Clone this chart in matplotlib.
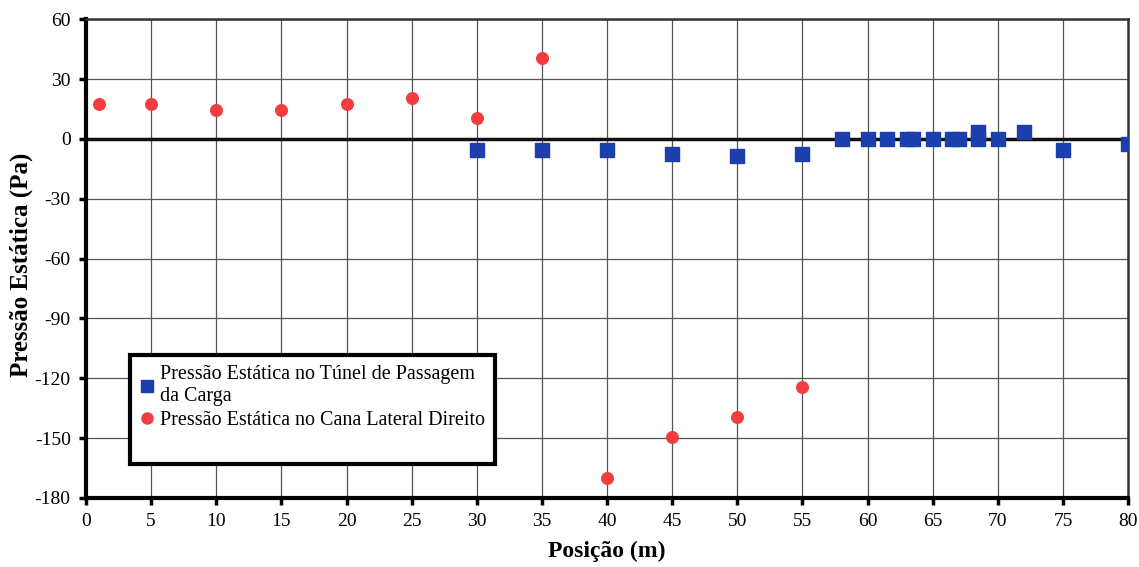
import matplotlib
matplotlib.use('Agg')
import matplotlib.pyplot as plt
from matplotlib.lines import Line2D

# Pressão no túnel de passagem da carga
tunel_x = [30, 35, 40, 45, 50, 55, 58, 60, 61.5, 63, 63.5, 65, 66.5, 67, 68.5, 68.5, 70, 72, 75, 80]
tunel_y = [-5.5, -5.5, -5.5, -7.5, -8.5, -7.5, 0, 0, 0, 0, 0, 0, 0, 0, 0, 3.5, 0, 3.5, -5.5, -2.5]

# Pressão no canal lateral direito
canal_x = [1, 5, 10, 15, 20, 25, 30, 35, 40, 45, 50, 55]
canal_y = [17.5, 17.5, 14.5, 14.5, 17.5, 20.5, 10.5, 40.5, -170, -149.5, -139.5, -124.5]

x_ticks = list(range(0, 81, 5))
y_ticks = list(range(-180, 61, 30))

plt.rcParams['font.family'] = ['Liberation Serif', 'DejaVu Serif']
plt.rcParams['axes.unicode_minus'] = False

fig = plt.figure(figsize=(11.39, 5.67), dpi=100)
ax = fig.add_axes([0.0755, 0.122, 0.915, 0.844])

ax.set_xlim(0, 80)
ax.set_ylim(-180, 60)
ax.set_xticks(x_ticks)
ax.set_yticks(y_ticks)
ax.grid(True, color='#555555', linewidth=0.9)
ax.set_axisbelow(True)
ax.axhline(0, color='#111111', linewidth=2.5, zorder=1)

for s in ['left', 'bottom']:
    ax.spines[s].set_linewidth(3)
for s in ['right', 'top']:
    ax.spines[s].set_linewidth(1.8)
    ax.spines[s].set_color('#333333')

ax.tick_params(axis='both', direction='out', length=5, width=2.5, labelsize=14)
ax.tick_params(axis='x', pad=6)
ax.tick_params(axis='y', pad=6)

ax.scatter(tunel_x, tunel_y, marker='s', s=110, color='#1c3fae', zorder=3)
ax.scatter(canal_x, canal_y, marker='o', s=70, color='#f23c3f', zorder=3)

ax.set_xlabel('Posição (m)', fontsize=17, fontweight='bold', labelpad=8)
ax.set_ylabel('Pressão Estática (Pa)', fontsize=18, fontweight='bold')
ax.yaxis.set_label_coords(-0.051, 0.486)

handles = [
    Line2D([], [], marker='s', linestyle='', color='#1c3fae', markersize=9),
    Line2D([], [], marker='o', linestyle='', color='#f23c3f', markersize=8),
    Line2D([], [], linestyle='', marker=''),
]
labels = ['Pressão Estática no Túnel de Passagem\nda Carga',
          'Pressão Estática no Cana Lateral Direito', '']
leg = ax.legend(handles, labels, loc='upper left', bbox_to_anchor=(0.042, 0.2985),
                fontsize=14.5, frameon=True, fancybox=False, handlelength=0.7,
                handletextpad=0.3, borderpad=0.5, labelspacing=0.25, borderaxespad=0,
                handleheight=0.5)
leg.get_frame().set_edgecolor('black')
leg.get_frame().set_linewidth(3)
leg.get_frame().set_alpha(1)

fig.savefig('out.png', dpi=100)
